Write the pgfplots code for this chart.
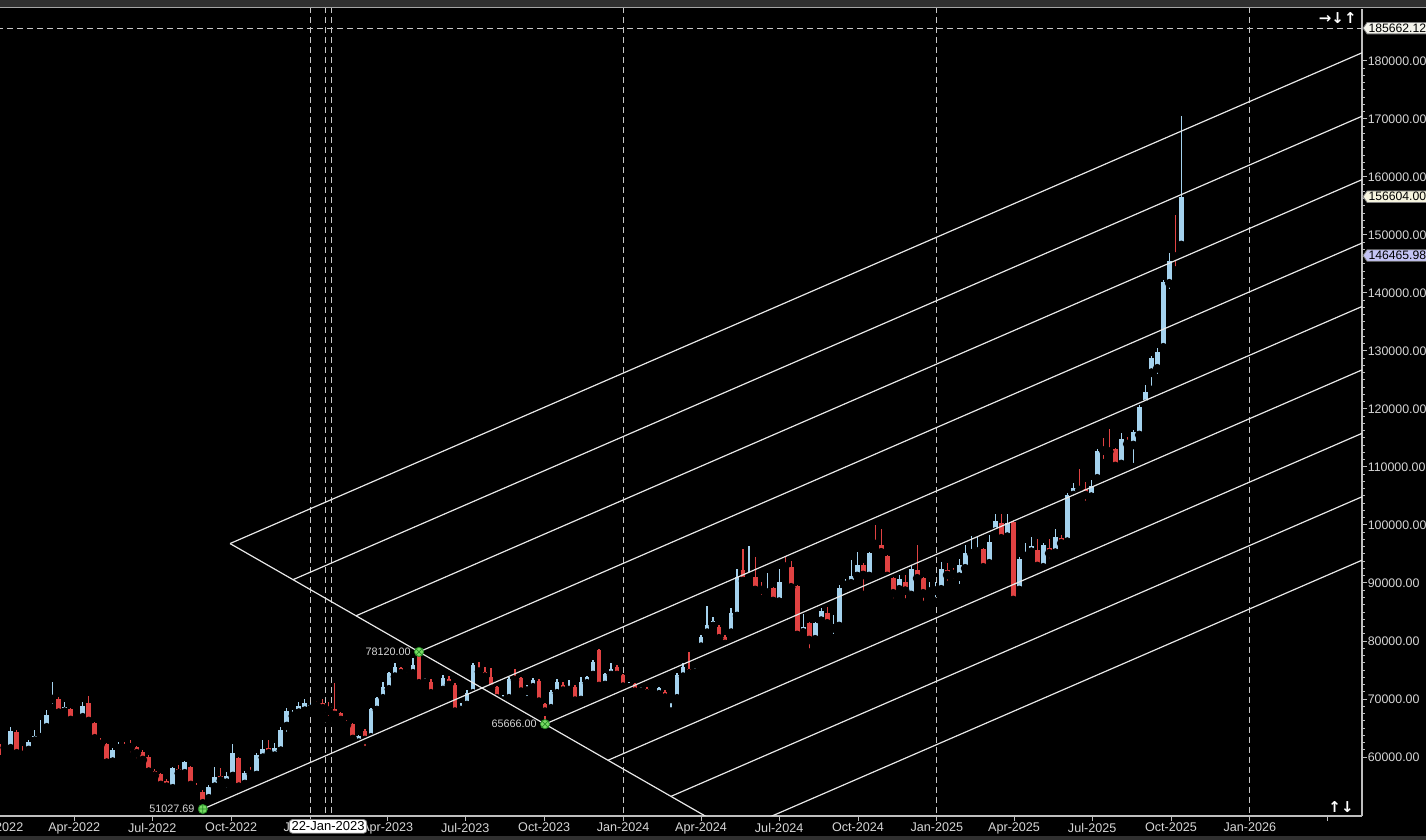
\documentclass[border=0pt]{standalone}
\usepackage{fontspec}
\setmainfont{Liberation Sans}
\newfontfamily\djv{DejaVu Sans}
\usepackage{pgfplots}
\pgfplotsset{compat=1.18}
\usepackage{pgfplotstable}
\usetikzlibrary{backgrounds,shapes.symbols,plotmarks}

\definecolor{bullc}{RGB}{164,210,238}
\definecolor{bearc}{RGB}{224,66,66}
\definecolor{gridc}{RGB}{200,200,200}
\definecolor{linec}{RGB}{232,232,232}
\definecolor{axc}{RGB}{190,190,190}
\definecolor{txtc}{RGB}{214,214,214}
\definecolor{mgreen}{RGB}{120,220,100}
\definecolor{dgreen}{RGB}{40,140,40}
\definecolor{tagw}{RGB}{244,244,236}
\definecolor{tagc}{RGB}{246,244,222}
\definecolor{tagl}{RGB}{196,196,244}
\definecolor{stripc}{RGB}{48,48,48}

\pgfplotstableread{
d o h l c
16 61497 65233 61210 64543
37 61210 62934 60923 62647
44 62819 64658 62647 63681
51 63394 66382 63221 63739
58 65118 68106 64199 67244
65 70003 72991 68394 70233
79 67819 69543 67244 68566
93 66497 67072 66267 66842
100 66842 69543 66670 68796
135 59199 61497 59026 61210
142 61497 62647 61210 61900
205 54601 58338 53854 58049
219 57187 59371 57072 59199
247 52877 55176 52589 54888
254 54888 58222 54773 56497
268 55578 57474 54026 56727
275 56727 62187 56612 60635
289 55348 57647 55118 57302
303 56900 60635 56727 60348
310 59888 62934 59773 61325
324 60233 62359 60060 61497
331 61095 65233 60923 64658
338 65348 68394 63624 67934
345 67072 68106 66382 67359
352 67647 69543 67417 68796
359 67991 69945 67819 69371
366 68279 69256 67991 68911
422 62474 63796 62244 63624
436 63394 68394 63221 68221
443 68106 70405 67991 70118
450 70118 72991 69429 72014
457 71669 74715 71440 74428
464 73853 76152 73566 75462
485 74428 77014 74141 75865
499 72819 73566 71669 73164
513 71555 72129 71267 71842
520 71555 74141 71440 73566
541 68106 69256 67532 68796
548 68968 71555 68796 71095
555 70980 76152 70118 75865
590 69715 70693 68968 70118
597 70118 73853 69945 73451
618 71440 72417 69830 72014
625 72014 73566 71555 73279
646 68394 71555 68221 71267
653 70980 73394 70405 72877
667 71555 73279 70693 72014
681 69830 73853 69658 72992
688 72704 73968 72417 73853
695 74141 76727 73968 76440
709 72417 74543 70980 74313
716 74141 76152 73968 75118
737 72014 72991 70980 72244
751 71267 72014 70693 71669
772 70807 72129 69600 71900
786 70003 70405 67819 70290
793 70118 74543 69945 74141
800 73853 76152 73279 75577
814 74543 75290 74141 74888
821 79025 81037 78336 80749
828 81439 86037 80462 82760
835 82588 84198 82186 83450
856 81439 85634 81324 84772
863 84313 92358 84198 90979
877 91094 96381 90807 91381
898 88336 91669 87646 88968
912 86784 92358 86497 90232
940 81496 84657 81324 82473
954 80290 83336 80175 83163
961 83508 85634 83336 85232
975 82186 84485 80462 82588
982 82588 89657 82014 89083
989 89657 90634 89485 89945
996 89945 93968 89830 91209
1003 91209 95404 91094 93106
1017 91209 95404 91094 95232
1052 88910 91381 88221 90692
1066 87933 93106 87761 92358
1087 88508 90232 88336 88795
1094 88680 90232 86784 89083
1101 88910 93680 88795 92358
1122 91094 94082 89083 93106
1129 92531 96554 92358 95232
1136 95117 98105 94830 95577
1143 95404 97990 95117 95979
1157 93393 98278 93278 97128
1164 98853 101898 98600 100691
1178 97991 101898 97128 100404
1192 88795 94542 87530 94082
1199 94657 96956 93393 95117
1206 95404 97990 94255 96381
1220 92703 96840 92530 96553
1234 95232 99255 94830 97875
1248 97128 105461 97013 105174
1255 105174 107185 103852 106324
1276 104887 107760 104599 106726
1283 108047 113047 106726 112817
1311 110519 115806 110346 114771
1325 113794 116381 109944 116093
1332 115519 120691 115231 120289
1339 120863 124139 120691 122989
1346 126265 129139 123277 128851
1353 127012 130461 125288 129770
1360 130635 142242 130461 141955
1367 141668 146955 139944 145518
1381 148277 170575 147989 156604
}\bull

\pgfplotstableread{
d o h l c
2 62244 62650 60060 60348
9 61750 62100 61210 61600
23 64371 64658 60348 60635
30 60923 61900 59773 60348
72 69945 70290 66842 67647
86 68279 68394 65118 66382
107 69371 70520 65922 66210
114 65922 66095 62934 63221
121 62647 63221 61497 62244
128 62244 62474 57877 59026
149 62072 62647 60348 61497
156 62015 62934 60060 61670
163 61670 61900 59026 60635
170 60923 61210 59199 59486
177 60060 60348 57302 57474
184 57647 57877 56037 56785
191 57015 57187 54314 55176
198 55923 56152 54026 54888
212 57877 58624 56612 57187
226 58337 58452 55003 55176
233 55003 55578 54314 54429
240 54026 54314 51027.69 52014
261 56727 58164 55750 55923
282 59773 60060 54601 54888
296 57589 58222 56727 57072
317 61497 62934 60348 60635
373 69371 69658 67532 68854
380 69256 69945 67072 68394
387 68681 69543 66382 67991
394 68221 72704 66957 67244
401 67532 67819 65922 66382
408 66095 66382 65233 65520
415 65693 65922 62934 63106
429 64543 64773 61210 62934
471 75290 75577 73853 74428
478 74428 74715 72819 73968
492 77800 78120 72300 72704
506 72991 73394 69945 70980
527 73450 73968 72100 72417
534 72417 72704 67244 67819
562 75290 76440 74141 74715
569 74715 75577 73566 73853
576 73853 75290 71669 71842
583 72014 72244 69830 70118
604 73566 75118 72991 73279
611 73566 73738 71095 71267
632 73164 73394 69371 69543
639 69141 69371 65666 67819
660 72417 72991 70405 71440
674 72129 72417 69543 69715
702 78451 78566 72129 72244
723 75577 75865 73968 74141
730 74141 74313 71555 72129
744 72532 72704 71095 71267
758 71669 72129 70405 70980
765 71300 71700 70500 71000
779 71267 71600 69715 70250
807 75118 78100 74141 74428
842 82473 82760 79197 80462
849 80634 81037 78738 79485
870 92243 95806 90060 90347
884 90979 94427 88508 88795
891 89255 90232 87186 88795
905 89083 89255 85922 86899
919 93278 94427 92531 92818
926 92818 93852 89083 89255
933 89485 89657 80749 81037
947 83163 83336 77991 80175
968 84772 85922 82933 83048
1010 93106 93393 87933 91381
1024 97128 100002 96554 96726
1031 96554 99255 93968 95289
1038 94657 94830 90807 91209
1045 90807 90979 86611 88221
1059 90232 91381 86611 88680
1073 92243 96554 90634 90807
1080 90807 90979 86210 88221
1108 92243 93508 89657 91381
1115 91956 92531 90060 91554
1150 95806 95979 92243 92703
1171 100289 101898 97531 97703
1185 100577 100800 86037 87071
1213 95692 97530 91956 92933
1227 95979 97530 93508 95117
1241 97703 98277 96266 96841
1262 106324 109599 105174 106036
1269 106151 107473 103450 105174
1290 113334 114944 110633 112817
1297 112932 116495 112243 112645
1304 113047 113220 108909 110174
1318 114369 115231 112817 113967
1374 146725 153449 143852 146266
}\bear

\begin{document}
\begin{tikzpicture}
\begin{axis}[
  name=ax, at={(0,0)}, anchor=south west,
  scale only axis, width=681pt, height=403.5pt,
  xmin=3.5, xmax=1591.7, ymin=49830, ymax=188965,
  axis background/.style={fill=black},
  axis x line*=bottom, axis y line*=right,
  axis line style={draw=axc, line width=0.6pt},
  clip mode=individual,
  xtick={90,181,273,365,455,546,638,730,821,912,1004,1096,1186,1277,1369,1461,1551},
  xticklabels={Apr-2022,Jul-2022,Oct-2022,Jan-2023,Apr-2023,Jul-2023,Oct-2023,Jan-2024,Apr-2024,Jul-2024,Oct-2024,Jan-2025,Apr-2025,Jul-2025,Oct-2025,Jan-2026,{}},
  ytick={60000,70000,...,180000},
  minor y tick num=7,
  scaled y ticks=false,
  tick align=outside,
  major tick length=2.5pt, minor tick length=1.5pt,
  tick style={draw=axc, line width=0.5pt},
  yticklabel={\pgfmathprintnumber[fixed,fixed zerofill,precision=2,1000 sep={},assume math mode=true]{\tick}},
  yticklabel style={anchor=west, inner sep=0pt, xshift=0.2pt, text=txtc, font=\fontsize{6.2}{7}\selectfont},
  xticklabel style={anchor=north, inner sep=0pt, yshift=-0.8pt, text=txtc, font=\fontsize{6.3}{7}\selectfont},
]
% grid lines
\addplot[gridc, dash pattern=on 3pt off 2pt, line width=0.5pt] coordinates {(365,40000) (365,200000)};
\addplot[gridc, dash pattern=on 3pt off 2pt, line width=0.5pt] coordinates {(383.5,40000) (383.5,200000)};
\addplot[gridc, dash pattern=on 3pt off 2pt, line width=0.5pt] coordinates {(389.5,40000) (389.5,200000)};
\addplot[gridc, dash pattern=on 3pt off 2pt, line width=0.5pt] coordinates {(730,40000) (730,200000)};
\addplot[gridc, dash pattern=on 3pt off 2pt, line width=0.5pt] coordinates {(1096,40000) (1096,200000)};
\addplot[gridc, dash pattern=on 3pt off 2pt, line width=0.5pt] coordinates {(1461,40000) (1461,200000)};
\addplot[gridc, dash pattern=on 3pt off 2pt, line width=0.5pt] coordinates {(0,185662.12) (1600,185662.12)};

% candles: wicks
\addplot[only marks, mark=none, error bars/.cd, y dir=plus, y explicit, error mark=none,
  error bar style={draw=bullc, line width=0.6pt}]
  table[x=d, y=l, y error expr=\thisrow{h}-\thisrow{l}] {\bull};
\addplot[only marks, mark=none, error bars/.cd, y dir=plus, y explicit, error mark=none,
  error bar style={draw=bearc, line width=0.6pt}]
  table[x=d, y=l, y error expr=\thisrow{h}-\thisrow{l}] {\bear};
% candles: bodies
\addplot[only marks, mark=none, error bars/.cd, y dir=plus, y explicit, error mark=none,
  error bar style={draw=bullc, line width=2.4pt}]
  table[x=d, y=o, y error expr=\thisrow{c}-\thisrow{o}] {\bull};
\addplot[only marks, mark=none, error bars/.cd, y dir=plus, y explicit, error mark=none,
  error bar style={draw=bearc, line width=2.4pt}]
  table[x=d, y=c, y error expr=\thisrow{o}-\thisrow{c}] {\bear};

% pitchfork
\addplot[linec, line width=0.6pt] coordinates {(271.75,96801) (932.8,40758)};
\addplot[linec, line width=0.6pt] coordinates {(271.75,96801) (1650,185149)};
\addplot[linec, line width=0.6pt] coordinates {(345.2,90574) (1650,174214)};
\addplot[linec, line width=0.6pt] coordinates {(418.65,84347) (1650,163279)};
\addplot[linec, line width=0.6pt] coordinates {(492.1,78120) (1650,152344)};
\addplot[linec, line width=0.6pt] coordinates {(240,51027.69) (1650,141409)};
\addplot[linec, line width=0.6pt] coordinates {(639,65666) (1650,130474)};
\addplot[linec, line width=0.6pt] coordinates {(712.45,59439) (1650,119539)};
\addplot[linec, line width=0.6pt] coordinates {(785.9,53212) (1650,108604)};
\addplot[linec, line width=0.6pt] coordinates {(859.35,46985) (1650,97669)};

% pivot markers
\addplot[only marks, mark=oplus*, mark size=2.3pt, mark options={fill=mgreen, draw=dgreen, line width=0.4pt}] coordinates {(240,51027.69)};
\addplot[only marks, mark=otimes*, mark size=2.3pt, mark options={fill=mgreen, draw=dgreen, line width=0.4pt}] coordinates {(492.1,78120) (639,65666)};

\coordinate (pA) at (axis cs:240,51027.69);
\coordinate (pB) at (axis cs:492.1,78120);
\coordinate (pC) at (axis cs:639,65666);
\coordinate (t1) at (axis cs:1591.7,185662.12);
\coordinate (t2) at (axis cs:1591.7,156604);
\coordinate (t3) at (axis cs:1591.7,146465.98);
\coordinate (tj) at (axis cs:386,49830);
\coordinate (j22) at (axis cs:0,49830);
\end{axis}

\node[anchor=east, text=txtc, font=\fontsize{5.4}{6}\selectfont, inner sep=0pt] at ([xshift=-4pt]pA) {51027.69};
\node[anchor=east, text=txtc, font=\fontsize{5.4}{6}\selectfont, inner sep=0pt] at ([xshift=-4pt]pB) {78120.00};
\node[anchor=east, text=txtc, font=\fontsize{5.4}{6}\selectfont, inner sep=0pt] at ([xshift=-4pt]pC) {65666.00};

\node[anchor=north, text=txtc, font=\fontsize{6.3}{7}\selectfont, inner sep=0pt] at ([yshift=-3.3pt]j22) {Jan-2022};

\node[signal, signal to=west, signal pointer angle=110, fill=tagw, draw=gray, text=black, anchor=west, inner sep=0.7pt, font=\fontsize{6.1}{7}\selectfont] at ([xshift=0.3pt]t1) {185662.12};
\node[signal, signal to=west, signal pointer angle=110, fill=tagc, draw=gray, text=black, anchor=west, inner sep=0.7pt, font=\fontsize{6.1}{7}\selectfont] at ([xshift=0.3pt]t2) {156604.00};
\node[signal, signal to=west, signal pointer angle=110, fill=tagl, draw=gray, text=black, anchor=west, inner sep=0.7pt, font=\fontsize{6.1}{7}\selectfont] at ([xshift=0.3pt]t3) {146465.98};

\node[fill=white, draw=gray, rounded corners=1.5pt, text=black, inner sep=1.1pt, anchor=north, font=\fontsize{6.5}{7}\selectfont] at ([yshift=-1.6pt]tj) {22-Jan-2023};

\node[text=white, font=\djv\bfseries\fontsize{7.5}{8}\selectfont, anchor=north east, inner sep=0pt] at ([xshift=-2.5pt,yshift=-1.5pt]ax.north east) {→↓↑};
\node[text=white, font=\djv\bfseries\fontsize{7.5}{8}\selectfont, anchor=south east, inner sep=0pt] at ([xshift=-4pt,yshift=1.5pt]ax.south east) {↑↓};

\begin{scope}[on background layer]
\fill[black] (0,-12pt) rectangle (713pt,408pt);
\fill[stripc] (0,404.2pt) rectangle (713pt,408pt);
\draw[gray!70, line width=0.6pt] (0,404.2pt) -- (713pt,404.2pt);
\fill[stripc] (0,-12pt) rectangle (713pt,-9.8pt);
\end{scope}
\pgfresetboundingbox
\path[use as bounding box] (0,-12pt) rectangle (713pt,408pt);
\end{tikzpicture}
\end{document}
